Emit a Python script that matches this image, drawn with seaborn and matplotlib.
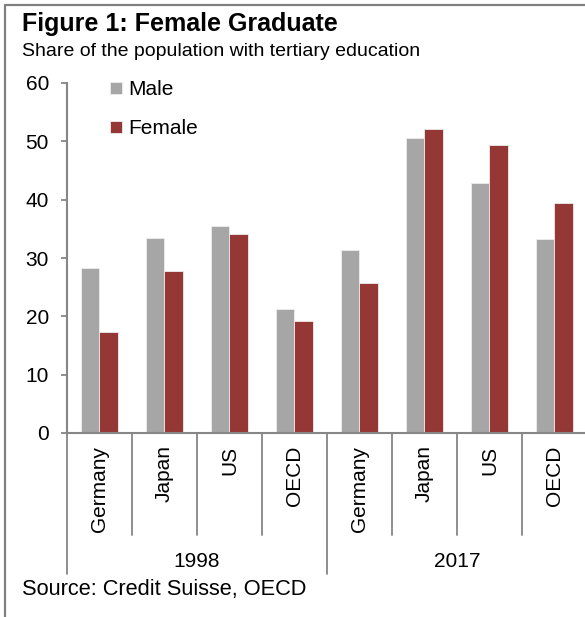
import matplotlib
matplotlib.use("Agg")
import matplotlib.pyplot as plt
from matplotlib.lines import Line2D
import matplotlib.transforms as mtransforms
import pandas as pd
import seaborn as sns

# Share of the population with tertiary education (%)
years = ["1998", "2017"]
countries = ["Germany", "Japan", "US", "OECD"]
male = [28.3, 33.4, 35.5, 21.3, 31.3, 50.6, 42.9, 33.3]
female = [17.4, 27.7, 34.2, 19.2, 25.7, 52.1, 49.4, 39.4]
series = ["Male", "Female"]
colors = ["#A6A6A6", "#953735"]
yticks = [0, 10, 20, 30, 40, 50, 60]

slots = [f"{y} {c}" for y in years for c in countries]
df = pd.DataFrame({
    "slot": slots * 2,
    "share": male + female,
    "sex": [series[0]] * len(slots) + [series[1]] * len(slots),
})

sns.set_theme(style="white")
plt.rcParams["font.family"] = ["Liberation Sans", "DejaVu Sans"]
plt.rcParams["text.color"] = "black"
plt.rcParams["xtick.labelcolor"] = "black"
plt.rcParams["ytick.labelcolor"] = "black"

W, H = 585, 617
fig = plt.figure(figsize=(W / 100, H / 100), dpi=100)
ax_left, ax_right, ax_top, ax_bottom = 67, 585, 83, 433
ax = fig.add_axes([ax_left / W, 1 - ax_bottom / H,
                   (ax_right - ax_left) / W, (ax_bottom - ax_top) / H])

sns.barplot(data=df, x="slot", y="share", hue="sex", order=slots,
            hue_order=series, palette=colors, saturation=1, width=0.57,
            dodge=True, edgecolor="#EDEDED", linewidth=0.6, ax=ax,
            legend=True)

ax.set_xlim(-0.5, 7.47)
ax.set_ylim(0, 60)
ax.set_yticks(yticks)
ax.set_xlabel("")
ax.set_ylabel("")

grey = "#868686"
for side in ["top", "right"]:
    ax.spines[side].set_visible(False)
for side in ["left", "bottom"]:
    ax.spines[side].set_color(grey)
    ax.spines[side].set_linewidth(1.5)

fs = 15
ax.tick_params(axis="y", which="major", left=True, length=4, width=1.3,
               color=grey, pad=9, labelsize=fs, labelcolor="black")
ax.set_xticks(range(len(slots)))
ax.set_xticklabels(countries * len(years), rotation=90, fontsize=fs,
                   color="black")
ax.tick_params(axis="x", length=0, pad=9, labelcolor="black")

# category and group separators below the axis
trans = mtransforms.blended_transform_factory(ax.transData, ax.transAxes)
n = len(slots)
per_group = len(countries)
for i in range(n + 1):
    x = i - 0.5
    depth = -0.403 if i % per_group == 0 else -0.291
    ax.add_line(Line2D([x, x], [0, depth], transform=trans, color=grey,
                       lw=1.3, clip_on=False))
for g, year in enumerate(years):
    xc = g * per_group + (per_group - 1) / 2
    ax.text(xc, -0.366, year, transform=trans, ha="center", va="center",
            fontsize=fs, color="black")

sns.move_legend(ax, loc="upper left",
                bbox_to_anchor=(100 / W, 1 - 70 / H),
                bbox_transform=fig.transFigure, frameon=False, title=None,
                fontsize=fs, handlelength=0.55, handleheight=0.55,
                handletextpad=0.3, labelspacing=0.95, borderpad=0,
                labelcolor="black")

fig.text(22 / W, 1 - 24 / H, "Figure 1: Female Graduate", fontsize=18,
         fontweight="bold", ha="left", va="center", color="black")
fig.text(22 / W, 1 - 51 / H, "Share of the population with tertiary education",
         fontsize=14, ha="left", va="center", color="black")
fig.text(22 / W, 1 - 590 / H, "Source: Credit Suisse, OECD", fontsize=15.7,
         ha="left", va="center", color="black")

# outer frame: left and top rules
fig.add_artist(Line2D([5 / W, 5 / W], [0, 1 - 5 / H], transform=fig.transFigure,
                      color="#808080", lw=1.6))
fig.add_artist(Line2D([5 / W, 1], [1 - 5 / H, 1 - 5 / H],
                      transform=fig.transFigure, color="#808080", lw=1.6))

fig.savefig("out.png", dpi=100)
